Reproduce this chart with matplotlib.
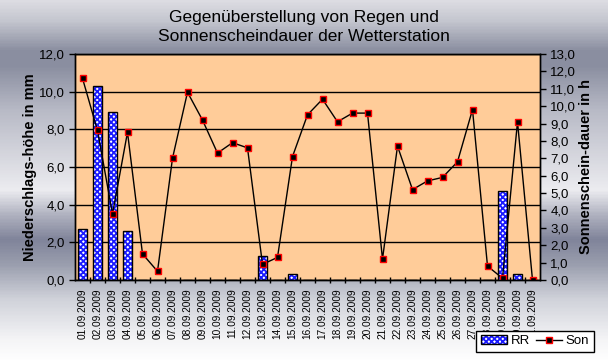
import numpy as np
import matplotlib.pyplot as plt
from matplotlib.colors import LinearSegmentedColormap
from matplotlib.ticker import FuncFormatter, MultipleLocator
from matplotlib.lines import Line2D
from matplotlib.patches import Patch
from matplotlib.legend_handler import HandlerTuple

plt.rcParams['font.family'] = ['Liberation Sans', 'DejaVu Sans']
plt.rcParams['hatch.linewidth'] = 1.3

# Data
days = ['%02d.09.2009' % d for d in range(1, 32)]
rr = [2.7, 10.3, 8.9, 2.6, 0, 0, 0, 0, 0, 0, 0, 0, 1.3, 0, 0.3, 0,
      0, 0, 0, 0, 0, 0, 0, 0, 0, 0, 0, 0, 4.7, 0.3, 0]
son = [11.6, 8.6, 3.8, 8.5, 1.5, 0.5, 7.0, 10.8, 9.2, 7.3, 7.9, 7.6, 0.9,
       1.3, 7.1, 9.5, 10.4, 9.1, 9.6, 9.6, 1.2, 7.7, 5.2, 5.7, 5.9, 6.8,
       9.8, 0.8, 0.1, 9.1, 0.0]

x = np.arange(len(days))
comma = FuncFormatter(lambda v, p: ('%.1f' % v).replace('.', ','))

fig = plt.figure(figsize=(6.08, 3.62), dpi=100)

# metallic background gradient
stops = [(0, '#dcdce2'), (20, '#c4c6cf'), (50, '#8a8ea0'), (65, '#8a8ea0'),
         (110, '#b8bac6'), (190, '#ececf0'), (215, '#b0b2c0'), (240, '#80849a'),
         (265, '#9a9eae'), (300, '#d0d2da'), (340, '#f4f4f6'), (362, '#ffffff')]
cmap = LinearSegmentedColormap.from_list('bg', [(p / 362, c) for p, c in stops])
bg = fig.add_axes([0, 0, 1, 1], zorder=-10)
bg.imshow(np.linspace(0, 1, 362).reshape(-1, 1), aspect='auto', cmap=cmap,
          extent=[0, 1, 0, 1], origin='upper')
bg.axis('off')

ax = fig.add_axes([75 / 608, 1 - 280 / 362, 465 / 608, 226 / 362])
ax.set_facecolor('#ffcc99')
ax.set_xlim(-0.5, len(days) - 0.5)
ax.set_ylim(0, 12)
ax.yaxis.set_major_locator(MultipleLocator(2))
ax.yaxis.set_major_formatter(comma)
ax.grid(axis='y', color='black', linewidth=1)
ax.set_axisbelow(True)

ax.bar(x, rr, width=0.66, color='white', edgecolor='#1a1aff', hatch='xxxxxx',
       linewidth=0, zorder=2)
ax.bar(x, rr, width=0.66, fill=False, edgecolor='black', linewidth=1, zorder=3)

ax2 = ax.twinx()
ax2.set_ylim(0, 13)
ax2.yaxis.set_major_locator(MultipleLocator(1))
ax2.yaxis.set_major_formatter(comma)
ax2.plot(x, son, color='black', linewidth=1, marker='s', markersize=5,
         markerfacecolor='black', markeredgecolor='red', markeredgewidth=1)

ax.set_xticks(x)
ax.set_xticklabels(days, rotation=90, fontsize=7.3)
ax.set_xticks(x[:-1] + 0.5, minor=True)
ax.tick_params(axis='x', which='major', length=0, pad=6)
ax.tick_params(axis='x', which='minor', direction='inout', length=5, width=1)
ax.tick_params(axis='y', direction='out', length=4, width=1, labelsize=9.5)
ax2.tick_params(axis='y', direction='out', length=4, width=1, labelsize=9.5)
for a in (ax, ax2):
    for s in a.spines.values():
        s.set_linewidth(1)
        s.set_color('black')

ax.set_ylabel('Niederschlags-höhe in mm', fontsize=10.5, fontweight='bold', labelpad=1)
ax2.set_ylabel('Sonnenschein-dauer in h', fontsize=10.5, fontweight='bold', labelpad=2)

fig.text(0.5, 1 - 27 / 362, 'Gegenüberstellung von Regen und\nSonnenscheindauer der Wetterstation',
         ha='center', va='center', fontsize=12.5, linespacing=1.3)

rr_handle = (Patch(facecolor='white', edgecolor='#1a1aff', hatch='xxxxxx', linewidth=0),
             Patch(fill=False, edgecolor='black', linewidth=1))
son_handle = Line2D([], [], color='black', linewidth=1, marker='s', markersize=5,
                    markerfacecolor='black', markeredgecolor='red')
leg = fig.legend([rr_handle, son_handle], ['RR', 'Son'], loc='lower right', ncol=2,
                 bbox_to_anchor=(594 / 608, 10 / 362), borderaxespad=0,
                 fontsize=9.5, frameon=True,
                 fancybox=False, edgecolor='black', framealpha=1,
                 handlelength=2.0, handletextpad=0.3, columnspacing=0.4,
                 borderpad=0.35, handler_map={tuple: HandlerTuple(ndivide=1)})
leg.get_frame().set_linewidth(1)
leg.set_zorder(10)

fig.savefig('out.png', dpi=100)
